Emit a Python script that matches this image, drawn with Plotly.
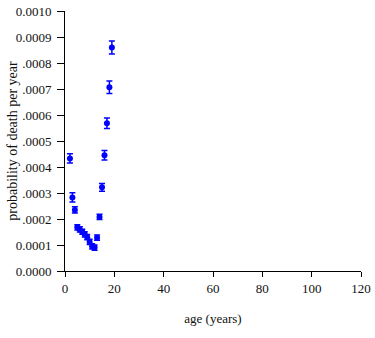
import plotly.graph_objects as go

ages = [2, 3, 4, 5, 6, 7, 8, 9, 10, 11, 12, 13, 14, 15, 16, 17, 18, 19]
prob = [0.000433, 0.000283, 0.000235, 0.000168, 0.000160, 0.000151, 0.000141,
        0.000130, 0.000112, 0.000095, 0.000090, 0.000128, 0.000208, 0.000322,
        0.000445, 0.000568, 0.000707, 0.000860]
err = [0.000018, 0.000018, 0.000012, 0.000010, 0.000010, 0.000010, 0.000010,
       0.000010, 0.000010, 0.000010, 0.000010, 0.000010, 0.000010, 0.000015,
       0.000018, 0.000020, 0.000024, 0.000025]

y_tickvals = [0.0, 0.0001, 0.0002, 0.0003, 0.0004, 0.0005, 0.0006, 0.0007, 0.0008, 0.0009, 0.0010]
y_ticktext = ["0.0000", "0.0001", ".0002", ".0003", ".0004", ".0005", ".0006", ".0007", ".0008", "0.0009", "0.0010"]
x_tickvals = [0, 20, 40, 60, 80, 100, 120]

FONT = "Liberation Serif"

fig = go.Figure()
fig.add_trace(go.Scatter(
    x=ages, y=prob, mode="markers",
    marker=dict(color="#0000ff", size=6),
    error_y=dict(type="data", array=err, visible=True, color="#0000ff", thickness=1.5, width=3),
    showlegend=False,
))

fig.update_layout(
    width=375, height=338,
    margin=dict(l=65, r=14, t=11, b=67),
    paper_bgcolor="white", plot_bgcolor="white",
    font=dict(family=FONT, size=13, color="#111"),
    xaxis=dict(
        range=[0, 120], tickvals=x_tickvals, showgrid=False, zeroline=False,
        showline=True, linecolor="black", linewidth=1,
        ticks="outside", ticklen=5, tickcolor="black", tickwidth=1,
        title=dict(text="age (years)", font=dict(family=FONT, size=13), standoff=19),
        automargin=False,
    ),
    yaxis=dict(
        range=[0, 0.001], tickvals=y_tickvals, ticktext=y_ticktext,
        showgrid=False, zeroline=False,
        showline=True, linecolor="black", linewidth=1,
        ticks="outside", ticklen=7, tickcolor="black", tickwidth=1,
        ticklabelstandoff=3,
        automargin=False,
    ),
    annotations=[dict(
        text="probability of death per year", textangle=-90,
        xref="paper", yref="paper", x=-0.18, y=0.5,
        xanchor="center", yanchor="middle", showarrow=False,
        font=dict(family=FONT, size=14, color="#111"),
    )],
)

fig.write_html("out.html")
